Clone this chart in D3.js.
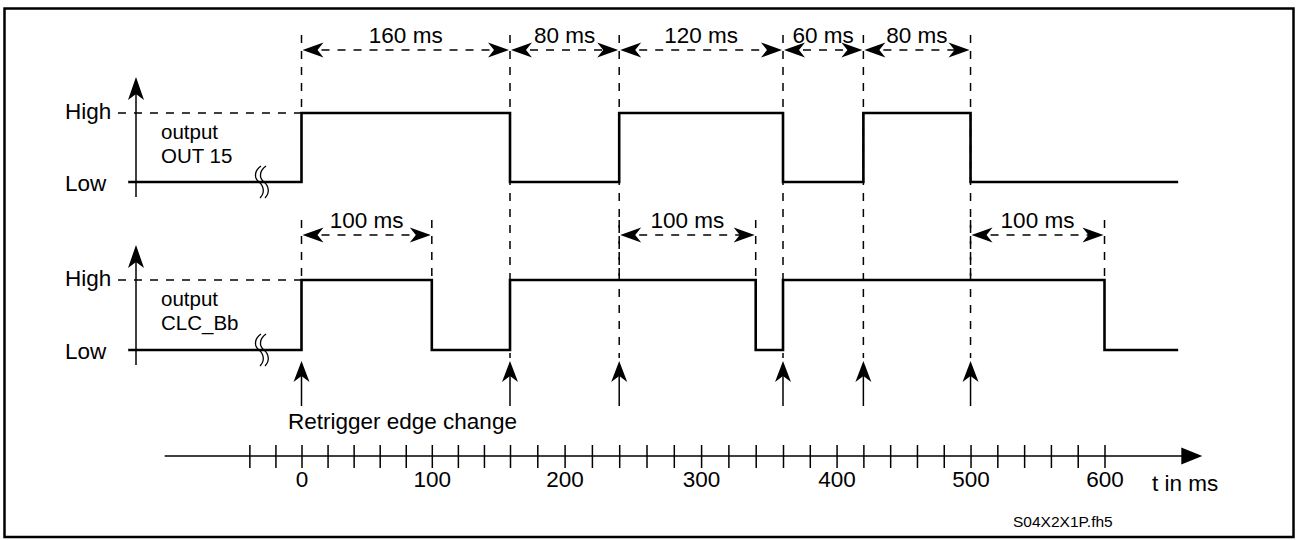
<!DOCTYPE html>
<html>
<head>
<meta charset="utf-8">
<script src="https://cdn.jsdelivr.net/npm/d3@7"></script>
<style>
	body { margin: 0; background: #fff; }
	svg { display: block; }
	text { font-family: "Liberation Sans", Arial, sans-serif; fill: #000; }
</style>
</head>
<body>
<svg id="chart" width="1297" height="540"></svg>
<script>
// signal traces: time in ms and level (0 = Low, 1 = High)
const out15Times  = [-133, 0, 160, 240, 360, 420, 500, 655];
const out15Levels = [0, 1, 0, 1, 0, 1, 0, 0];
const clcTimes    = [-133, 0, 100, 160, 340, 360, 600, 655];
const clcLevels   = [0, 1, 0, 1, 0, 1, 0, 0];

// measured intervals shown with dimension arrows
const out15Spans = [[0, 160], [160, 240], [240, 360], [360, 420], [420, 500]];
const clcSpans   = [[0, 100], [240, 340], [500, 600]];

// retrigger edges
const retriggerTimes = [0, 160, 240, 360, 420, 500];

// time axis
const axisTicks  = d3.range(-40, 601, 20);
const axisLabels = [0, 100, 200, 300, 400, 500, 600];
const axisExtent = [-105, 673];

const levelNames  = ["Low", "High"];
const signalNames = [["output", "OUT 15"], ["output", "CLC_Bb"]];

const svg = d3.select("#chart");
const black = "#000";
const fs = 22.5;

// frame
svg.append("rect")
	.attr("x", 4.5).attr("y", 8.5).attr("width", 1289).attr("height", 528.5)
	.attr("fill", "none").attr("stroke", black).attr("stroke-width", 2.5);

// the drawing is not quite linear in time, so use a polylinear scale
const x = d3.scaleLinear().domain([0, 160, 360, 600]).range([301.5, 510, 783, 1104.5]);

const channels = [
	{ times: out15Times, levels: out15Levels, y: d3.scaleLinear().domain([0, 1]).range([182, 113]), axisTop: 77, axisBottom: 197, names: signalNames[0], textY: [139, 163] },
	{ times: clcTimes, levels: clcLevels, y: d3.scaleLinear().domain([0, 1]).range([350, 280]), axisTop: 245, axisBottom: 365, names: signalNames[1], textY: [306, 330] }
];

// arrow head, tip at (0,0) pointing to +x before rotation
function arrowHead(g, tx, ty, angle, len, half, notch) {
	const p = `M0,0 L${-len},${-half} L${-len + notch},0 L${-len},${half} Z`;
	g.append("path").attr("d", p).attr("fill", black)
		.attr("transform", `translate(${tx},${ty}) rotate(${angle})`);
}

// break mark on the low line
function breakMark(g, cx, cy) {
	for (const off of [0, 5]) {
		const bx = cx + off;
		g.append("path")
			.attr("d", `M${bx + 2},${cy - 16} C${bx - 5},${cy - 11} ${bx - 5},${cy - 4} ${bx},${cy} C${bx + 5},${cy + 4} ${bx + 6},${cy + 11} ${bx + 1},${cy + 16}`)
			.attr("fill", "none").attr("stroke", black).attr("stroke-width", 1.3);
	}
}

const dash = "8,8";
const guides = svg.append("g").attr("stroke", black).attr("stroke-width", 1.5).attr("stroke-dasharray", dash);

// dashed guides
const topBounds = Array.from(new Set(out15Spans.flat()));
const clcBounds = Array.from(new Set(clcSpans.flat()));
topBounds.forEach(t => {
	guides.append("line").attr("x1", x(t)).attr("x2", x(t)).attr("y1", 35).attr("y2", channels[0].y(1));
});
clcBounds.forEach(t => {
	guides.append("line").attr("x1", x(t)).attr("x2", x(t)).attr("y1", 220).attr("y2", channels[1].y(1));
});
retriggerTimes.slice(1).forEach(t => {
	guides.append("line").attr("x1", x(t)).attr("x2", x(t)).attr("y1", channels[0].y(1)).attr("y2", 358);
});

// channels
const line = d3.line().curve(d3.curveStepAfter);
channels.forEach(ch => {
	const g = svg.append("g");
	const yHigh = ch.y(1), yLow = ch.y(0);

	// level axis with arrow
	g.append("line").attr("x1", 136).attr("x2", 136).attr("y1", ch.axisBottom).attr("y2", ch.axisTop + 10)
		.attr("stroke", black).attr("stroke-width", 1.5);
	arrowHead(g, 136, ch.axisTop, -90, 23, 8, 6);

	// High reference line
	g.append("line").attr("x1", 118).attr("x2", x(0)).attr("y1", yHigh).attr("y2", yHigh)
		.attr("stroke", black).attr("stroke-width", 1.5).attr("stroke-dasharray", dash);

	g.append("text").attr("x", 65).attr("y", yHigh + 6).attr("font-size", fs).text(levelNames[1]);
	g.append("text").attr("x", 65).attr("y", yLow + 9).attr("font-size", fs).text(levelNames[0]);

	g.append("text").attr("x", 161).attr("y", ch.textY[0]).attr("font-size", 20.5).text(ch.names[0]);
	g.append("text").attr("x", 161).attr("y", ch.textY[1]).attr("font-size", 20.5).text(ch.names[1]);

	const pts = ch.times.map((t, i) => [x(t), ch.y(ch.levels[i])]);
	g.append("path").attr("d", line(pts)).attr("fill", "none")
		.attr("stroke", black).attr("stroke-width", 2.6);

	breakMark(g, 259, yLow);
});

// dimension arrows
function dimRow(spans, yRow) {
	const g = svg.append("g");
	spans.forEach(([a, b]) => {
		g.append("line").attr("x1", x(a) + 4).attr("x2", x(b) - 4).attr("y1", yRow).attr("y2", yRow)
			.attr("stroke", black).attr("stroke-width", 1.5).attr("stroke-dasharray", dash);
		arrowHead(g, x(a) + 1, yRow, 180, 21, 7.5, 6);
		arrowHead(g, x(b) - 1, yRow, 0, 21, 7.5, 6);
		g.append("text").attr("x", (x(a) + x(b)) / 2).attr("y", yRow - 7)
			.attr("text-anchor", "middle").attr("font-size", fs).text(`${b - a} ms`);
	});
}
dimRow(out15Spans, 50);
dimRow(clcSpans, 235);

// retrigger arrows
const trig = svg.append("g");
retriggerTimes.forEach(t => {
	trig.append("line").attr("x1", x(t)).attr("x2", x(t)).attr("y1", 370).attr("y2", 406)
		.attr("stroke", black).attr("stroke-width", 1.5);
	arrowHead(trig, x(t), 361, -90, 21, 8, 6);
});
svg.append("text").attr("x", 288).attr("y", 429).attr("font-size", fs).text("Retrigger edge change");

// time axis
const axisY = 456;
svg.append("line").attr("x1", x(axisExtent[0])).attr("x2", x(axisExtent[1]) - 15)
	.attr("y1", axisY).attr("y2", axisY).attr("stroke", black).attr("stroke-width", 1.5);
svg.append("path")
	.attr("d", `M0,0 L-21,-8.5 L-21,8.5 Z`).attr("fill", black)
	.attr("transform", `translate(${x(axisExtent[1])},${axisY})`);

const xAxis = d3.axisBottom(x)
	.tickValues(axisTicks)
	.tickSize(12)
	.tickFormat(d => axisLabels.includes(d) ? d : "");
const ag = svg.append("g").attr("transform", `translate(0,${axisY})`).call(xAxis);
ag.attr("font-family", null).attr("font-size", fs);
ag.select(".domain").remove();
ag.selectAll(".tick line").attr("y1", -11).attr("y2", 12).attr("stroke", black).attr("stroke-width", 1.5);
ag.selectAll(".tick text").attr("y", 31).attr("dy", 0).attr("fill", black);

svg.append("text").attr("x", 1152).attr("y", 491).attr("font-size", fs).text("t in ms");
svg.append("text").attr("x", 1013).attr("y", 527).attr("font-size", 15.5).text("S04X2X1P.fh5");
</script>
</body>
</html>
